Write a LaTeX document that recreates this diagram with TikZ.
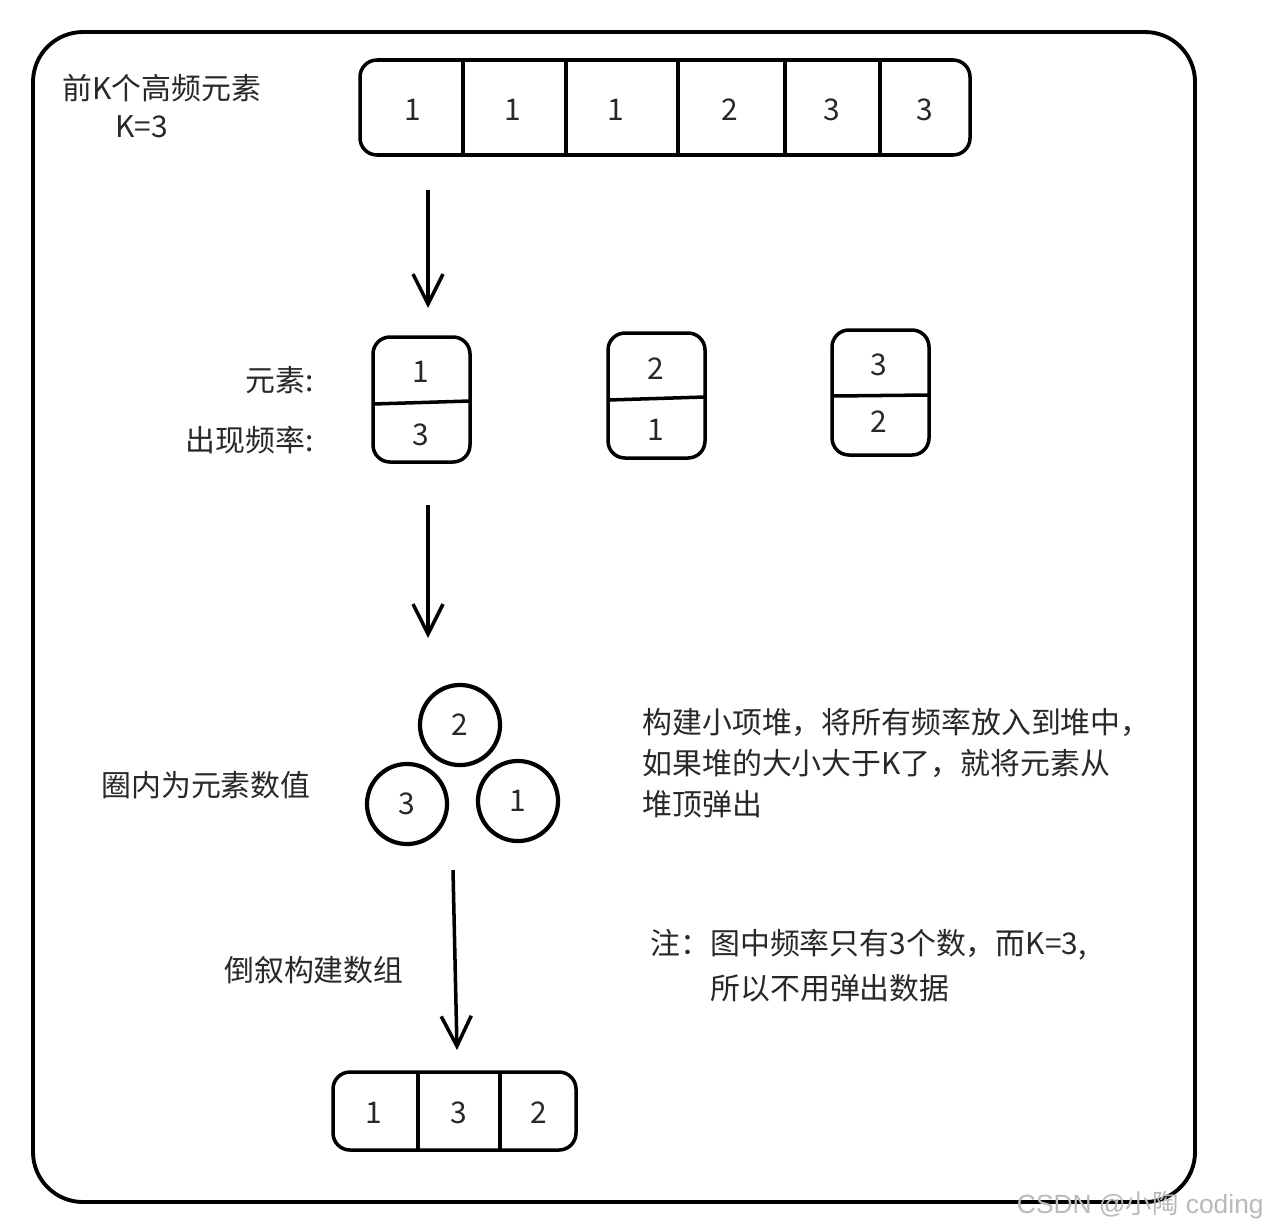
\documentclass[tikz,border=0pt]{standalone}
\usepackage{fontspec}
\setmainfont{Noto Sans CJK SC}
\newfontfamily\markfont{Liberation Sans}
\newfontfamily\markcjk{Noto Sans CJK SC}
\usetikzlibrary{arrows.meta}
\definecolor{inkgray}{RGB}{40,40,40}

\begin{document}
\begin{tikzpicture}[x=0.01cm,y=-0.01cm,font=\fontsize{8.5}{11.7}\selectfont,text=inkgray,
  box/.style={line width=1pt,rounded corners=0.17cm},
  sep/.style={line width=1pt},
  flow/.style={line width=1pt,-{Straight Barb[length=0.3cm,width=0.3cm,line width=1pt]}}]
\useasboundingbox (0,0) rectangle (1277,1227);

	\draw[line width=1.1pt,rounded corners=0.5cm] (33,32) rectangle (1195,1202);
	
	% input array
	\node[anchor=west] (title) at (50,88){前K个高频元素};
	\node[anchor=west] (k) at (103,127){K=3};
	\draw[box] (360,60) rectangle (970,155);
	\foreach \x in {463,566,678,785,880}
		\draw[sep] (\x,60) -- (\x,155);
	\foreach \x/\v [count=\i] in {413/1,513/1,616/1,730/2,832/3,925/3}
		\node (a\i) at (\x,110){\v};
	
	\coordinate (s1) at (428,190);
	\coordinate (e1) at (428,308);
	\draw[flow] (s1) -- (e1);
	
	% element / frequency pairs
	\node[anchor=east] (elem) at (326,380){元素:};
	\node[anchor=east] (freq) at (326,440){出现频率:};
	
	\draw[box] (373,337) rectangle (470,462);
	\draw[sep] (373,404) -- (470,401);
	\node (p1) at (421,372){1};
	\node (q1) at (421,435){3};
	
	\draw[box] (608,333) rectangle (705,458);
	\draw[sep] (608,400) -- (705,397);
	\node (p2) at (656,369){2};
	\node (q2) at (656,430){1};
	
	\draw[box] (832,330) rectangle (929,455);
	\draw[sep] (832,396) -- (929,395);
	\node (p3) at (879,365){3};
	\node (q3) at (879,422){2};
	
	\coordinate (s2) at (428,505);
	\coordinate (e2) at (428,638);
	\draw[flow] (s2) -- (e2);
	
	% min heap
	\node[anchor=east] (inside) at (323,785){圈内为元素数值};
	\node[draw,circle,line width=1.2pt,minimum size=0.8cm] (c2) at (460,725){2};
	\node[draw,circle,line width=1.2pt,minimum size=0.8cm] (c3) at (407,804){3};
	\node[draw,circle,line width=1.2pt,minimum size=0.8cm] (c1) at (518,801){1};
	\node[anchor=west,align=left] (heap) at (630,763){构建小项堆，将所有频率放入到堆中，\\如果堆的大小大于K了，就将元素从\\堆顶弹出};
	
	\coordinate (s3) at (453,870);
	\coordinate (e3) at (457,1050);
	\draw[flow] (s3) -- (e3);
	
	% result
	\node[anchor=east] (rev) at (416,970){倒叙构建数组};
	\node[anchor=west] (note) at (638,945){注：图中频率只有3个数，而K=3,};
	\node[anchor=west] (note2) at (698,988){所以不用弹出数据};
	
	\draw[box] (333,1072) rectangle (576,1150);
	\draw[sep] (418,1072) -- (418,1150);
	\draw[sep] (500,1072) -- (500,1150);
	\foreach \x/\v [count=\i] in {374/1,459/3,539/2}
		\node (r\i) at (\x,1113){\v};
	
	\node[anchor=east,text=gray!55,font=\fontsize{7.5}{9}\markfont] (mark) at (1276,1205){CSDN @{\markcjk 小陶} coding};
	
\end{tikzpicture}
\end{document}
